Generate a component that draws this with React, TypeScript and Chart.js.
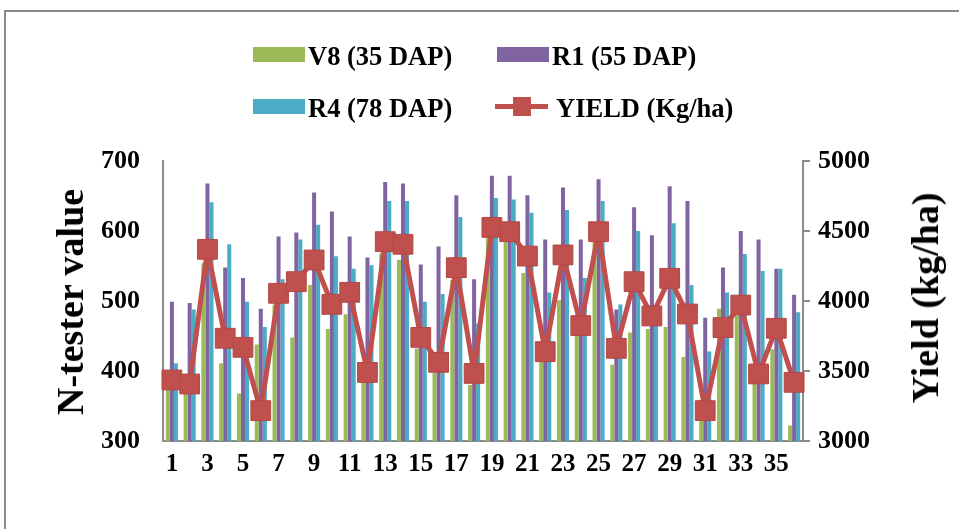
import React, { useEffect, useRef } from "react";
import { Chart, registerables } from "chart.js";

Chart.register(...registerables);

const categories = ["1","2","3","4","5","6","7","8","9","10","11","12","13","14","15","16","17","18","19","20","21","22","23","24","25","26","27","28","29","30","31","32","33","34","35","36"];

const v8Values = [380, 375, 554, 411, 368, 438, 495, 448, 523, 460, 481, 385, 568, 559, 432, 397, 530, 380, 592, 587, 540, 424, 501, 450, 586, 409, 455, 460, 463, 420, 335, 489, 479, 385, 431, 322];
const r1Values = [499, 497, 668, 548, 533, 489, 592, 598, 655, 628, 592, 562, 670, 668, 552, 578, 651, 531, 679, 679, 651, 588, 662, 588, 674, 488, 634, 594, 664, 643, 476, 548, 600, 588, 546, 509];
const r4Values = [411, 488, 641, 581, 499, 463, 531, 588, 609, 564, 546, 551, 643, 643, 499, 510, 620, 468, 647, 645, 626, 512, 630, 533, 643, 495, 600, 485, 611, 523, 428, 512, 567, 543, 546, 484];
const yieldValues = [3436, 3407, 4369, 3734, 3669, 3217, 4055, 4138, 4293, 3976, 4062, 3490, 4424, 4405, 3740, 3562, 4238, 3483, 4526, 4495, 4321, 3638, 4329, 3824, 4495, 3662, 4138, 3893, 4162, 3907, 3217, 3810, 3971, 3479, 3805, 3419];

const seriesNames = ["V8 (35 DAP)", "R1 (55 DAP)", "R4 (78 DAP)", "YIELD (Kg/ha)"];
const leftTitle = "N-tester value";
const rightTitle = "Yield (kg/ha)";

const GREEN = "#9BBB59";
const PURPLE = "#8064A2";
const TEAL = "#4BACC6";
const RED = "#C0504D";
const AXIS = "#8c8c8c";
const FONT = "'Liberation Serif', 'Times New Roman', serif";

export default function App() {
  const canvasRef = useRef<HTMLCanvasElement | null>(null);

  useEffect(() => {
    const canvas = canvasRef.current;
    if (!canvas) return;
    const chart = new Chart(canvas, {
      type: "bar",
      data: {
        labels: categories,
        datasets: [
          { type: "bar", label: seriesNames[0], data: v8Values, backgroundColor: GREEN, yAxisID: "y", order: 1, barPercentage: 1, categoryPercentage: 0.68 },
          { type: "bar", label: seriesNames[1], data: r1Values, backgroundColor: PURPLE, yAxisID: "y", order: 1, barPercentage: 1, categoryPercentage: 0.68 },
          { type: "bar", label: seriesNames[2], data: r4Values, backgroundColor: TEAL, yAxisID: "y", order: 1, barPercentage: 1, categoryPercentage: 0.68 },
          {
            type: "line",
            label: seriesNames[3],
            data: yieldValues,
            yAxisID: "y1",
            order: 0,
            borderColor: RED,
            borderWidth: 5,
            backgroundColor: RED,
            pointStyle: "rect",
            pointRadius: 14,
            pointBackgroundColor: RED,
            pointBorderColor: "#B44744",
            pointBorderWidth: 1,
            tension: 0,
          },
        ],
      },
      options: {
        animation: false,
        responsive: true,
        maintainAspectRatio: false,
        layout: { padding: { top: 161, left: 0, right: 0, bottom: 0 } },
        plugins: { legend: { display: false }, tooltip: { enabled: false } },
        scales: {
          x: {
            type: "category",
            offset: true,
            grid: { display: false, drawTicks: false },
            border: { display: true, color: AXIS, width: 2 },
            ticks: {
              autoSkip: false,
              maxRotation: 0,
              minRotation: 0,
              padding: 9,
              color: "#000",
              font: { family: FONT, size: 25, weight: "bold" },
              callback: (_v: any, idx: number) => (idx % 2 === 0 ? categories[idx] : ""),
            },
            afterFit: (scale: any) => { scale.height = 88; },
          },
          y: {
            position: "left",
            min: 300,
            max: 700,
            grid: { display: false, drawTicks: false },
            border: { display: true, color: AXIS, width: 2 },
            ticks: {
              stepSize: 100,
              padding: 23,
              color: "#000",
              font: { family: FONT, size: 26, weight: "bold" },
              callback: (v: any) => String(v),
            },
            afterFit: (scale: any) => { scale.width = 163; },
          },
          y1: {
            position: "right",
            min: 3000,
            max: 5000,
            grid: { display: true, drawOnChartArea: false, drawTicks: true, tickLength: 7, color: AXIS, lineWidth: 2 },
            border: { display: true, color: AXIS, width: 2 },
            ticks: {
              stepSize: 500,
              padding: 8,
              color: "#000",
              font: { family: FONT, size: 26, weight: "bold" },
              callback: (v: any) => String(v),
            },
            afterFit: (scale: any) => { scale.width = 156; },
          },
        },
      },
    } as any);
    return () => chart.destroy();
  }, []);

  const legendText: React.CSSProperties = {
    position: "absolute",
    fontFamily: FONT,
    fontWeight: "bold",
    fontSize: "26.5px",
    color: "#000",
    lineHeight: "30px",
    whiteSpace: "nowrap",
  };

  const swatch = (left: number, top: number, color: string) => (
    <div style={{ position: "absolute", left, top, width: 52, height: 15, background: color }} />
  );

  const titleStyle: React.CSSProperties = {
    position: "absolute",
    transform: "translate(-50%, -50%) rotate(-90deg)",
    fontFamily: FONT,
    fontWeight: "bold",
    fontSize: "38px",
    whiteSpace: "nowrap",
    color: "#000",
  };

  return (
    <div style={{ position: "fixed", left: 0, top: 0, width: 959, height: 529, background: "#fff", overflow: "hidden" }}>
      <div style={{ position: "absolute", left: 4, top: 10, width: 970, height: 540, border: "2px solid #8a8a8a", boxSizing: "border-box" }} />
      <canvas ref={canvasRef} style={{ position: "absolute", left: 0, top: 0 }} />
      {swatch(253, 47, GREEN)}
      <div style={{ ...legendText, left: 308, top: 41 }}>{seriesNames[0]}</div>
      {swatch(497, 47, PURPLE)}
      <div style={{ ...legendText, left: 552, top: 41 }}>{seriesNames[1]}</div>
      {swatch(253, 99, TEAL)}
      <div style={{ ...legendText, left: 308, top: 93 }}>{seriesNames[2]}</div>
      <div style={{ position: "absolute", left: 495, top: 104, width: 53, height: 5, background: RED }} />
      <div style={{ position: "absolute", left: 513, top: 97, width: 18, height: 19, background: RED }} />
      <div style={{ ...legendText, left: 556, top: 93 }}>{seriesNames[3]}</div>
      <div style={{ ...titleStyle, left: 70, top: 302 }}>{leftTitle}</div>
      <div style={{ ...titleStyle, left: 925, top: 298 }}>{rightTitle}</div>
    </div>
  );
}
